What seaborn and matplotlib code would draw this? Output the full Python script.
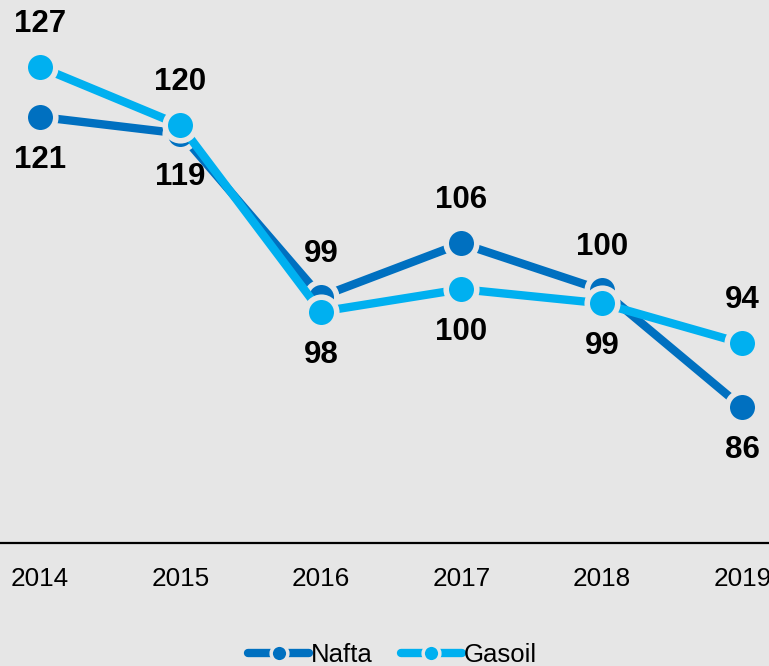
import matplotlib
matplotlib.use("Agg")
import matplotlib.pyplot as plt
import seaborn as sns
import pandas as pd

# =========================
# DATA
# =========================
years = [2014, 2015, 2016, 2017, 2018, 2019]
nafta = [121.0, 119.0, 99.4, 105.8, 100.2, 86.1]
gasoil = [127.0, 120.0, 97.6, 100.3, 98.6, 93.8]
nafta_labels = [121, 119, 99, 106, 100, 86]
gasoil_labels = [127, 120, 98, 100, 99, 94]

# label side: 1 = above, -1 = below
nafta_side = [-1, -1, 1, 1, 1, -1]
gasoil_side = [1, 1, -1, -1, -1, 1]

BG = "#e6e6e6"
C_NAFTA = "#0070c0"
C_GASOIL = "#00b0f0"

sns.set_style("white", {"axes.facecolor": BG, "figure.facecolor": BG,
                        "text.color": "black", "xtick.color": "black"})
plt.rcParams["font.family"] = ["Liberation Sans", "DejaVu Sans"]

df = pd.DataFrame({
    "year": years * 2,
    "value": nafta + gasoil,
    "serie": ["Nafta"] * len(years) + ["Gasoil"] * len(years),
})

fig = plt.figure(figsize=(7.69, 6.66), dpi=100)
ax = fig.add_axes([0.0, 1 - 543 / 666, 1.0, 543 / 666])

sns.lineplot(
    data=df, x="year", y="value", hue="serie",
    palette={"Nafta": C_NAFTA, "Gasoil": C_GASOIL},
    hue_order=["Nafta", "Gasoil"],
    marker="o", markersize=22, markeredgecolor=BG, markeredgewidth=4,
    linewidth=6, ax=ax, legend=True,
)

# data labels
for vals, labs, sides in [(nafta, nafta_labels, nafta_side),
                          (gasoil, gasoil_labels, gasoil_side)]:
    for x, v, lab, s in zip(years, vals, labs, sides):
        ax.annotate(str(lab), (x, v), xytext=(0, 31 * s),
                    textcoords="offset points", ha="center", va="center",
                    fontsize=22.5, fontweight="bold", color="black")

ax.set_xlim(2013.715, 2019.19)
ax.set_ylim(69.8, 135.05)
ax.set_xticks(years)
ax.set_xticklabels([str(y) for y in years], fontsize=18.8, color="black")
ax.set_yticks([])
ax.set_xlabel("")
ax.set_ylabel("")
ax.tick_params(axis="x", length=0, pad=17)

for side in ["left", "right", "top"]:
    ax.spines[side].set_visible(False)
ax.spines["bottom"].set_color("black")
ax.spines["bottom"].set_linewidth(1.6)

handles, labels = ax.get_legend_handles_labels()
ax.get_legend().remove()
for h in handles:
    h.set_markersize(12)
    h.set_markeredgewidth(2.5)
fig.legend(handles, labels, loc="center", bbox_to_anchor=(0.51, 0.017),
           ncol=2, frameon=False, fontsize=18.5, handlelength=2.4,
           handletextpad=0.05, columnspacing=1.1, labelcolor="black")

fig.savefig("out.png", dpi=100, facecolor=BG)
